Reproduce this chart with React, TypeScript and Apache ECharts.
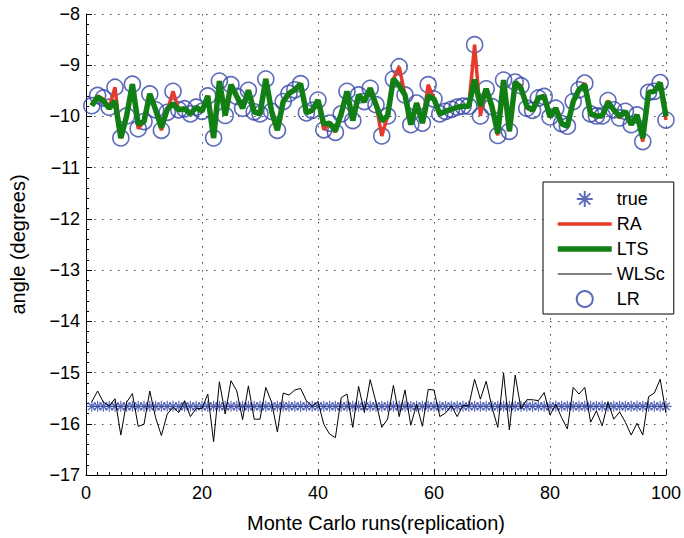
import React, { useEffect, useRef } from "react";
import * as echarts from "echarts";

const runs: number[] = Array.from({ length: 100 }, (_, i) => i + 1);

const trueValue = -15.66;

const lrAngle = [
  -9.79, -9.59, -9.64, -9.82, -9.43, -10.42, -9.99, -9.37, -10.24, -10.1,
  -9.56, -9.87, -10.27, -9.92, -9.51, -9.87, -9.85, -9.95, -9.82, -9.9,
  -9.6, -10.42, -9.31, -9.98, -9.38, -9.61, -9.84, -9.49, -9.91, -9.95,
  -9.27, -9.9, -10.27, -9.71, -9.55, -9.48, -9.36, -9.93, -9.88, -9.68,
  -10.26, -10.13, -10.31, -9.95, -9.51, -10.08, -9.58, -9.71, -9.45, -9.77,
  -10.38, -9.99, -9.27, -9.03, -9.58, -10.16, -9.74, -10.13, -9.38, -9.66,
  -9.95, -9.9, -9.86, -9.82, -9.8, -9.8, -8.6, -9.99, -9.46, -9.81,
  -10.37, -9.29, -10.29, -9.33, -9.4, -9.84, -9.88, -9.64, -9.61, -10.01,
  -9.84, -10.14, -10.19, -9.71, -9.48, -9.35, -9.95, -9.99, -9.99, -9.69,
  -9.87, -10.03, -9.9, -10.16, -9.97, -10.49, -9.53, -9.51, -9.34, -10.07,
];

const raAngle = [
  -9.77, -9.6, -9.66, -9.82, -9.43, -10.42, -9.99, -9.37, -10.24, -10.1,
  -9.56, -9.87, -10.27, -9.9, -9.51, -9.87, -9.85, -9.95, -9.82, -9.9,
  -9.6, -10.42, -9.31, -9.98, -9.38, -9.61, -9.84, -9.49, -9.91, -9.95,
  -9.27, -9.9, -10.27, -9.71, -9.55, -9.48, -9.36, -9.93, -9.88, -9.68,
  -10.26, -10.13, -10.31, -9.95, -9.51, -10.08, -9.58, -9.71, -9.45, -9.77,
  -10.38, -9.99, -9.27, -9.03, -9.58, -10.16, -9.74, -10.13, -9.38, -9.66,
  -9.95, -9.9, -9.86, -9.82, -9.8, -9.8, -8.6, -9.99, -9.46, -9.81,
  -10.37, -9.29, -10.29, -9.33, -9.4, -9.84, -9.88, -9.64, -9.61, -10.01,
  -9.84, -10.14, -10.19, -9.71, -9.48, -9.35, -9.95, -9.99, -9.99, -9.69,
  -9.87, -10.03, -9.9, -10.16, -9.97, -10.49, -9.53, -9.51, -9.34, -10.07,
];

const ltsAngle = [
  -9.79, -9.62, -9.7, -9.84, -9.7, -10.42, -9.99, -9.37, -10.15, -10.1,
  -9.56, -9.87, -10.22, -9.86, -9.75, -9.87, -9.85, -9.95, -9.82, -9.9,
  -9.6, -10.42, -9.31, -9.98, -9.38, -9.61, -9.84, -9.49, -9.91, -9.95,
  -9.27, -9.9, -10.27, -9.71, -9.55, -9.48, -9.36, -9.93, -9.88, -9.68,
  -10.15, -10.13, -10.28, -9.95, -9.51, -10.08, -9.58, -9.71, -9.45, -9.77,
  -10.08, -9.99, -9.27, -9.4, -9.58, -10.16, -9.74, -10.13, -9.6, -9.66,
  -9.95, -9.9, -9.86, -9.82, -9.8, -9.8, -9.28, -9.8, -9.46, -9.81,
  -10.33, -9.29, -10.29, -9.33, -9.45, -9.8, -9.88, -9.64, -9.61, -10.01,
  -9.84, -10.14, -10.19, -9.71, -9.48, -9.38, -9.95, -9.99, -9.99, -9.72,
  -9.87, -10.0, -9.9, -10.16, -9.97, -10.42, -9.53, -9.51, -9.34, -10.0,
];

const wlscAngle = [
  -15.57, -15.36, -15.58, -15.65, -15.51, -16.22, -15.58, -15.41, -16.05, -16.01,
  -15.36, -15.88, -16.23, -15.81, -15.68, -15.78, -15.55, -15.86, -15.7, -15.7,
  -15.42, -16.35, -15.18, -15.81, -15.16, -15.36, -15.92, -15.26, -15.91, -15.91,
  -15.29, -15.58, -16.16, -15.4, -15.44, -15.34, -15.31, -15.55, -15.66, -15.57,
  -16.01, -16.2, -16.27, -15.49, -15.42, -16.07, -15.27, -15.78, -15.14, -15.58,
  -16.07, -15.91, -15.25, -15.86, -15.34, -16.03, -15.62, -16.05, -15.33, -15.34,
  -15.86, -15.79, -15.65, -15.86, -15.64, -15.65, -15.13, -15.52, -15.17, -15.68,
  -16.07, -15.01, -16.12, -15.05, -15.71, -15.53, -15.53, -15.55, -15.39, -15.83,
  -15.62, -15.88, -16.1, -15.29, -15.42, -15.29, -15.97, -15.75, -16.04, -15.58,
  -15.91, -15.77, -15.97, -16.22, -15.99, -16.22, -15.47, -15.4, -15.13, -15.79,
];

const seriesNames = ["true", "RA", "LTS", "WLSc", "LR"];

const FONT = "Liberation Sans, Arial, Helvetica, sans-serif";
const BLUE = "#3446a8";
const RED = "#e53a2c";
const GREEN = "#127f14";

const asterisk =
  "path://M5,0L5,10M0,5L10,5M1.5,1.5L8.5,8.5M1.5,8.5L8.5,1.5";

const minus = (v: number) => String(v).replace("-", "\u2212");

export default function App() {
  const ref = useRef<HTMLDivElement>(null);
  useEffect(() => {
    if (!ref.current) return;
    const chart = echarts.init(ref.current, undefined, { renderer: "svg" });
    const pair = (arr: number[]) => runs.map((r, i) => [r, arr[i]]);
    const grid = { show: true, color: "#444", type: [1.5, 6.5] as any, width: 1 };
    const hideSym = { opacity: 0 };
    chart.setOption({
      animation: false,
      backgroundColor: "#fff",
      grid: { left: 80, right: 17, top: 14, bottom: 62 },
      xAxis: {
        type: "value",
        min: 0,
        max: 100,
        interval: 20,
        name: "Monte Carlo runs(replication)",
        nameLocation: "middle",
        nameGap: 38,
        nameTextStyle: { fontFamily: FONT, fontSize: 20, color: "#000" },
        axisLine: { show: true, onZero: false, lineStyle: { color: "#000", width: 1 } },
        axisTick: { show: true, inside: true, length: 6, lineStyle: { color: "#000" } },
        minorTick: { show: true, splitNumber: 10, length: 3, lineStyle: { color: "#000" } },
        axisLabel: { fontFamily: FONT, fontSize: 18, color: "#000", margin: 9 },
        splitLine: { show: true, lineStyle: grid },
      },
      yAxis: {
        type: "value",
        min: -17,
        max: -8,
        interval: 1,
        name: "angle (degrees)",
        nameLocation: "middle",
        nameGap: 58,
        nameTextStyle: { fontFamily: FONT, fontSize: 20, color: "#000" },
        axisLine: { show: true, onZero: false, lineStyle: { color: "#000", width: 1 } },
        axisTick: { show: true, inside: true, length: 6, lineStyle: { color: "#000" } },
        minorTick: { show: true, splitNumber: 5, length: 3, lineStyle: { color: "#000" } },
        axisLabel: {
          fontFamily: FONT,
          fontSize: 18,
          color: "#000",
          margin: 6,
          formatter: (v: number) => minus(v),
        },
        splitLine: { show: true, lineStyle: grid },
      },
      legend: {
        data: [
          { name: seriesNames[0] },
          { name: seriesNames[1], itemStyle: hideSym, lineStyle: { width: 3.5, color: RED } },
          { name: seriesNames[2], itemStyle: hideSym, lineStyle: { width: 5.5, color: GREEN } },
          { name: seriesNames[3], itemStyle: hideSym, lineStyle: { width: 1, color: "#000" } },
          { name: seriesNames[4] },
        ],
        orient: "vertical",
        left: 543,
        top: 182,
        itemWidth: 54,
        itemHeight: 16,
        itemGap: 7,
        padding: [8, 9, 6, 12],
        backgroundColor: "#fff",
        borderColor: "#000",
        borderWidth: 1,
        borderRadius: 0,
        selectedMode: false,
        textStyle: { fontFamily: FONT, fontSize: 18, color: "#000" },
      },
      series: [
        {
          name: "true",
          type: "scatter",
          data: runs.map((r) => [r, trueValue]),
          symbol: asterisk,
          symbolSize: 11,
          itemStyle: { color: "rgba(0,0,0,0)", borderColor: BLUE, borderWidth: 1.2 },
        },
        {
          name: "RA",
          type: "line",
          data: pair(raAngle),
          symbol: "none",
          lineStyle: { color: RED, width: 3.5 },
          itemStyle: { color: RED },
        },
        {
          name: "LTS",
          type: "line",
          data: pair(ltsAngle),
          symbol: "none",
          lineStyle: { color: GREEN, width: 5.5 },
          itemStyle: { color: GREEN },
        },
        {
          name: "WLSc",
          type: "line",
          data: pair(wlscAngle),
          symbol: "none",
          lineStyle: { color: "#000", width: 1 },
          itemStyle: { color: "#000" },
        },
        {
          name: "LR",
          type: "scatter",
          data: pair(lrAngle),
          symbol: "circle",
          symbolSize: 16,
          itemStyle: { color: "rgba(0,0,0,0)", borderColor: BLUE, borderWidth: 1.6 },
        },
      ],
    });
    return () => chart.dispose();
  }, []);
  return <div ref={ref} style={{ width: 684, height: 538, position: "absolute", left: 0, top: 0 }} />;
}
